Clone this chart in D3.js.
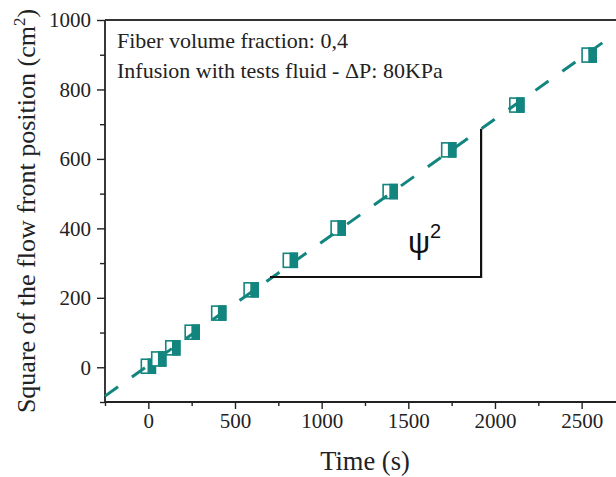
<!DOCTYPE html>
<html>
<head>
<meta charset="utf-8">
<script src="https://cdn.jsdelivr.net/npm/d3@7/dist/d3.min.js"></script>
<style>
html,body{margin:0;padding:0;background:#fff;}
svg{display:block;}
</style>
</head>
<body>
<svg id="chart" width="616" height="477"></svg>
<script>
// ---- data ----
const timeS = [0, 60, 141, 253, 406, 593, 819, 1095, 1395, 1733, 2126, 2543];
const flowSq = [3, 24, 56, 101, 156, 223, 308, 401, 506, 626, 755, 899];
const fitSlope = 0.3545;
const fitIntercept = 5.6;
const fitRange = [-250, 2647];
const xTicks = [0, 500, 1000, 1500, 2000, 2500];
const yTicks = [0, 200, 400, 600, 800, 1000];
const triangleX = [702, 1920];
const triangleY = [260, 687];
const annotLines = ["Fiber volume fraction: 0,4", "Infusion with tests fluid - \u0394P: 80KPa"];

(function(){
const W = 616, H = 477;
const mLeft = 105, mRight = 616.3, mTop = 20, mBottom = 402;
const teal = "#13857f";
const svg = d3.select("#chart");

const x = d3.scaleLinear().domain([-250, 2700]).range([mLeft, mRight]);
const y = d3.scaleLinear().domain([-100, 1000]).range([mBottom, mTop]);

const serif = "'Liberation Serif','Times New Roman',serif";

const xMinor = d3.range(-250, 2700, 250).filter(v => !xTicks.includes(v));
const yMinor = d3.range(-100, 1000, 100).filter(v => !yTicks.includes(v));

const gx = svg.append("g").attr("transform", `translate(0,${mBottom})`)
  .call(d3.axisBottom(x).tickValues(xTicks).tickSize(7).tickPadding(4).tickFormat(d3.format("d")));
gx.append("g").call(d3.axisBottom(x).tickValues(xMinor).tickSize(4).tickFormat(""))
  .select(".domain").remove();

const gy = svg.append("g").attr("transform", `translate(${mLeft},0)`)
  .call(d3.axisLeft(y).tickValues(yTicks).tickSize(8).tickPadding(6).tickFormat(d3.format("d")));
gy.append("g").call(d3.axisLeft(y).tickValues(yMinor).tickSize(5).tickFormat(""))
  .select(".domain").remove();

[gx, gy].forEach(g => {
  g.selectAll(".domain").attr("stroke", "#222").attr("stroke-width", 1.8);
  g.selectAll(".tick line").attr("stroke", "#222").attr("stroke-width", 1.4);
  g.selectAll(".tick text").attr("fill", "#222").style("font-family", serif).style("font-size", "21px");
});
gx.select(".domain").attr("d", `M${mLeft},0H${W}`);
gy.select(".domain").attr("d", `M0,${mBottom}V${mTop}`);

svg.append("line").attr("x1", mLeft).attr("x2", W).attr("y1", mTop).attr("y2", mTop)
  .attr("stroke", "#333").attr("stroke-width", 2);

svg.append("text").attr("x", 365).attr("y", 470).attr("text-anchor", "middle")
  .style("font-family", serif).style("font-size", "26.5px").attr("fill", "#222").text("Time (s)");

const yt = svg.append("text").attr("transform", `translate(35,211) rotate(-90)`)
  .attr("text-anchor", "middle").style("font-family", serif).style("font-size", "26px").attr("fill", "#222");
yt.append("tspan").text("Square of the flow front position (cm");
yt.append("tspan").attr("dy", -10).style("font-size", "17px").text("2");
yt.append("tspan").attr("dy", 10).text(")");

svg.selectAll("text.annot").data(annotLines).join("text").attr("class", "annot")
  .attr("x", 117).attr("y", (d, i) => 48 + i * 30)
  .style("font-family", serif).style("font-size", "22px").attr("fill", "#222").text(d => d);

const pts = timeS.map((t, i) => ({t, v: flowSq[i]}));
const s = 14;
const mk = svg.append("g").selectAll("g").data(pts).join("g")
  .attr("transform", d => `translate(${x(d.t)},${y(d.v)})`);
mk.append("rect").attr("x", -s/2).attr("y", -s/2).attr("width", s).attr("height", s)
  .attr("fill", "#fff").attr("stroke", teal).attr("stroke-width", 1.6);
mk.append("rect").attr("x", 0).attr("y", -s/2).attr("width", s/2).attr("height", s)
  .attr("fill", teal).attr("stroke", teal).attr("stroke-width", 1.6);

svg.append("line")
  .attr("x1", x(fitRange[0])).attr("y1", y(fitIntercept + fitSlope * fitRange[0]))
  .attr("x2", x(fitRange[1])).attr("y2", y(fitIntercept + fitSlope * fitRange[1]))
  .attr("stroke", teal).attr("stroke-width", 3).attr("stroke-dasharray", "16,17");

svg.append("path")
  .attr("d", `M${x(triangleX[0])},${y(triangleY[0])}H${x(triangleX[1])}V${y(triangleY[1])}`)
  .attr("fill", "none").attr("stroke", "#111").attr("stroke-width", 2.2);

const psi = svg.append("text").attr("x", 408).attr("y", 253)
  .style("font-family", "'Liberation Sans','DejaVu Sans',sans-serif").style("font-size", "31px").attr("fill", "#111");
psi.append("tspan").text("\u03C8");
psi.append("tspan").attr("dy", -15).style("font-size", "20px").text("2");
})();
</script>
</body>
</html>
